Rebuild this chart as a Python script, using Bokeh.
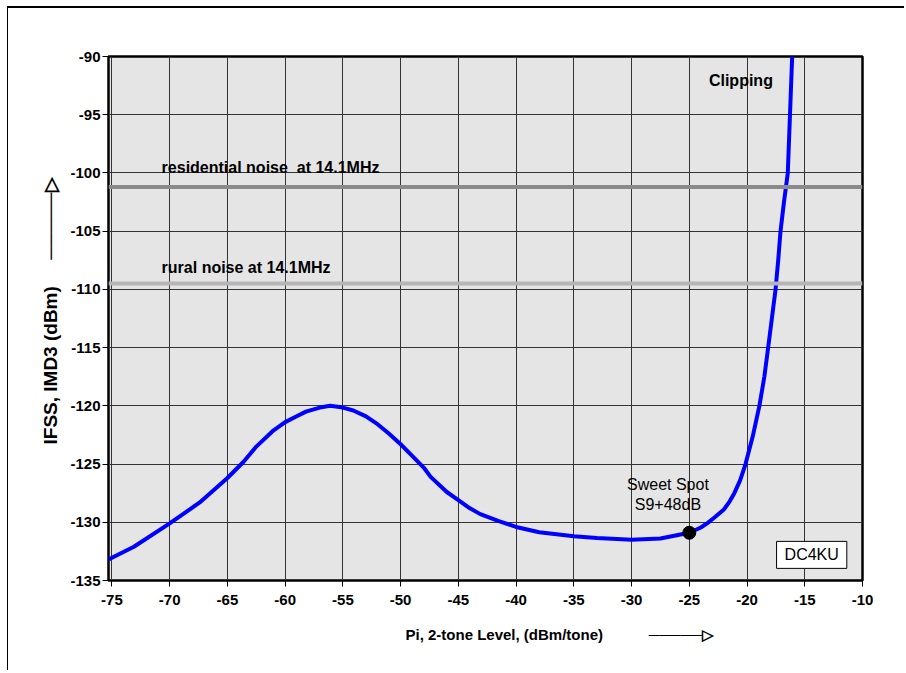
from bokeh.plotting import figure
from bokeh.models import Range1d, FixedTicker, Span, Label, Title, ColumnDataSource
from bokeh.embed import file_html
from bokeh.resources import INLINE

# ---- data ----
pi_level = [-75.3, -73.1, -70.0, -67.4, -65.0, -63.6, -62.5, -61.0, -60.0, -59.0, -58.2, -57.0,
            -56.1, -55.0, -54.1, -53.0, -52.1, -51.0, -50.0, -49.0, -48.0, -47.4, -46.0, -45.0,
            -44.0, -43.1, -41.5, -40.0, -38.0, -35.0, -33.0, -30.0, -27.5, -25.0, -24.0, -23.4,
            -22.9, -22.0, -21.5, -21.1, -20.6, -20.13, -19.5, -18.93, -18.5, -18.17, -17.85, -17.53,
            -17.3, -17.1, -16.8, -16.47, -16.28, -16.09]
ifss_imd3 = [-133.2, -132.1, -130.1, -128.3, -126.2, -124.8, -123.5, -122.1, -121.4, -120.9, -120.5, -120.15,
             -120.0, -120.15, -120.4, -120.9, -121.5, -122.4, -123.3, -124.3, -125.3, -126.1, -127.4, -128.1,
             -128.8, -129.3, -129.9, -130.4, -130.85, -131.2, -131.35, -131.5, -131.4, -130.9, -130.45, -130.05,
             -129.65, -128.9, -128.2, -127.5, -126.4, -125.0, -122.6, -120.0, -117.5, -115.0, -112.5, -110.0,
             -107.5, -105.0, -102.5, -100.0, -95.0, -90.0]
x_ticks = [-75, -70, -65, -60, -55, -50, -45, -40, -35, -30, -25, -20, -15, -10]
y_ticks = [-135, -130, -125, -120, -115, -110, -105, -100, -95, -90]
residential_noise = -101.2
rural_noise = -109.5
sweet_spot_x = [-25.0]
sweet_spot_y = [-130.9]

FONT = "Liberation Sans"
NB = "\u00a0"

p = figure(frame_width=754, frame_height=524,
           min_border_left=100, min_border_right=43, min_border_top=48, min_border_bottom=92,
           x_range=Range1d(-75.3, -10), y_range=Range1d(-135, -90),
           output_backend="svg", toolbar_location=None)
p.margin = (8, 0, 0, 8)
p.styles = {"box-shadow": "-1px -2px 0 0 #000"}

p.background_fill_color = "#e5e5e5"
p.border_fill_color = "white"
p.outline_line_color = "black"
p.outline_line_width = 2.5

for ax in (p.xaxis[0], p.yaxis[0]):
    ax.axis_line_color = None
    ax.major_tick_line_color = "black"
    ax.major_tick_line_width = 1
    ax.major_tick_in = 0
    ax.major_tick_out = 6
    ax.minor_tick_line_color = None
    ax.major_label_text_font = FONT
    ax.major_label_text_font_style = "bold"
    ax.major_label_text_font_size = "15px"
    ax.major_label_text_color = "black"
p.xaxis.ticker = FixedTicker(ticks=x_ticks)
p.yaxis.ticker = FixedTicker(ticks=y_ticks)
p.xaxis.major_label_overrides = {t: str(t) for t in x_ticks}
p.yaxis.major_label_overrides = {t: str(t) for t in y_ticks}
p.xaxis.major_label_standoff = 8
p.yaxis.major_label_standoff = 2

p.xgrid.ticker = FixedTicker(ticks=x_ticks)
p.ygrid.ticker = FixedTicker(ticks=y_ticks)
p.grid.grid_line_color = "#333333"
p.grid.grid_line_width = 1

p.add_layout(Span(location=residential_noise, dimension="width", line_color="#8a8a8a", line_width=4))
p.add_layout(Span(location=rural_noise, dimension="width", line_color="#b5b5b5", line_width=4))

src = ColumnDataSource(dict(x=pi_level, y=ifss_imd3))
p.line("x", "y", source=src, line_color="#0000ff", line_width=4, line_join="round")
p.scatter(sweet_spot_x, sweet_spot_y, size=13, color="black")

def lab(text, x, y, bold=True, size="16px", align="left", baseline="middle", **kw):
    p.add_layout(Label(text=text, x=x, y=y, text_font=FONT,
                       text_font_style="bold" if bold else "normal",
                       text_font_size=size, text_align=align, text_baseline=baseline,
                       text_color="black", **kw))

lab("residential noise" + NB + " at 14.1MHz", -70.7, -99.5)
lab("rural noise at 14.1MHz", -70.7, -108.1)
lab("Clipping", -23.3, -92.1)
lab("Sweet Spot", -26.85, -126.75, bold=False, align="center")
lab("S9+48dB", -26.85, -128.45, bold=False, align="center")
lab("DC4KU", -14.4, -132.8, bold=False, align="center",
    background_fill_color="white", border_line_color="black", border_line_width=1,
    padding=(8, 5))

# axis titles with their arrows (as side titles, so they sit outside the frame)
arrow = "\u2500" * 5 + "\u25b7"
xt = Title(text="Pi, 2-tone Level, (dBm/tone)" + NB * 11 + arrow, align="left", offset=297,
           standoff=33, text_font=FONT, text_font_style="bold", text_font_size="15px",
           text_color="black")
p.add_layout(xt, "below")
yt = Title(text="IFSS, IMD3 (dBm)" + NB * 5 + arrow, align="left", offset=136,
           standoff=13, text_font=FONT, text_font_style="bold", text_font_size="19px",
           text_color="black")
p.add_layout(yt, "left")

open("out.html", "w").write(file_html(p, INLINE))
